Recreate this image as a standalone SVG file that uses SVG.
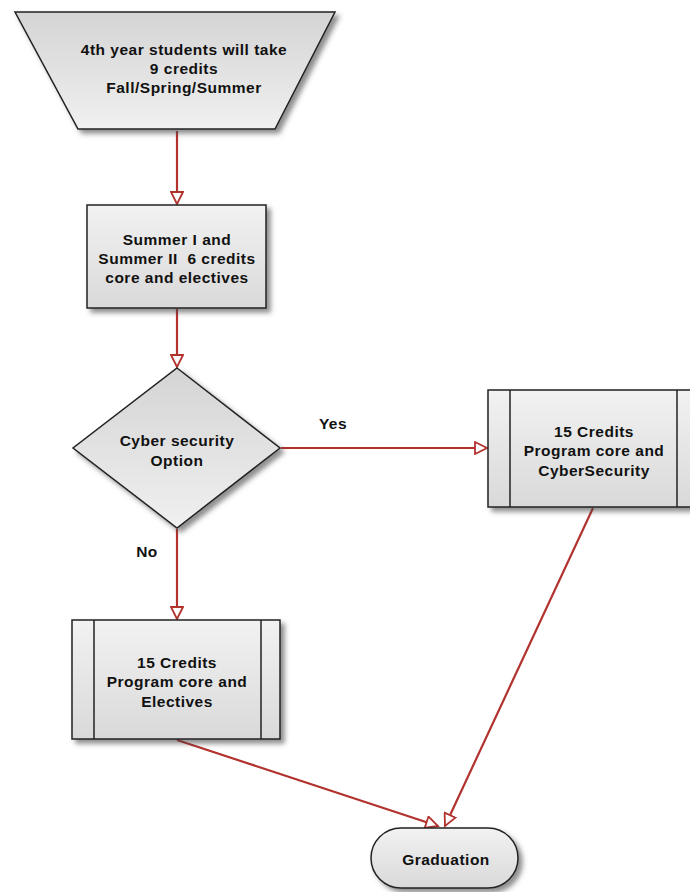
<svg xmlns="http://www.w3.org/2000/svg" width="690" height="892" viewBox="0 0 690 892">
<defs>
<linearGradient id="g" x1="0" y1="0" x2="0" y2="1">
<stop offset="0" stop-color="#f2f2f2"/>
<stop offset="1" stop-color="#d9d9d9"/>
</linearGradient>
<linearGradient id="gt" x1="0" y1="0" x2="0" y2="1">
<stop offset="0" stop-color="#d4d4d4"/>
<stop offset="1" stop-color="#f0f0f0"/>
</linearGradient>
<filter id="sh" x="-10%" y="-10%" width="125%" height="130%">
<feDropShadow dx="4" dy="4" stdDeviation="2.5" flood-color="#444" flood-opacity="0.6"/>
</filter>
<marker id="ah" markerWidth="16" markerHeight="14" refX="13" refY="7" orient="auto" markerUnits="userSpaceOnUse">
<path d="M1,1 L13,7 L1,13 Z" fill="#fff" stroke="#b2322e" stroke-width="1.8"/>
</marker>
</defs>
<style>
.n{stroke:#222;stroke-width:1.5;filter:url(#sh)}
.t{font-family:"Liberation Sans",Arial,sans-serif;font-size:15.5px;font-weight:bold;fill:#111;text-anchor:middle;white-space:pre;letter-spacing:0.5px}
.c{stroke:#b2322e;stroke-width:2.2;fill:none;marker-end:url(#ah)}
.l{stroke:#222;stroke-width:1.5}
</style>
<rect width="690" height="892" fill="#fff"/>
<g id="connectors">
<line class="c" x1="177" y1="131" x2="177" y2="204"/>
<line class="c" x1="177" y1="309" x2="177" y2="367"/>
<line class="c" x1="281" y1="448" x2="487" y2="448"/>
<line class="c" x1="177" y1="529" x2="177" y2="619"/>
<line class="c" x1="177" y1="740" x2="438" y2="826"/>
<line class="c" x1="593" y1="508" x2="445" y2="826"/>
</g>
<g id="start">
<polygon class="n" points="15,12 335,12 275,129 78,129" fill="url(#gt)"/>
<text class="t" x="184" y="55">4th year students will take</text>
<text class="t" x="184" y="74">9 credits</text>
<text class="t" x="184" y="93">Fall/Spring/Summer</text>
</g>
<g id="summer">
<rect class="n" x="87" y="205" width="179" height="103" fill="url(#g)"/>
<text class="t" x="177" y="245">Summer I and</text>
<text class="t" x="177" y="264">Summer II  6 credits</text>
<text class="t" x="177" y="283">core and electives</text>
</g>
<g id="decision">
<polygon class="n" points="177,368 280,448 177,528 73,448" fill="url(#gt)"/>
<text class="t" x="177" y="446">Cyber security</text>
<text class="t" x="177" y="466">Option</text>
</g>
<text class="t" x="333" y="429">Yes</text>
<text class="t" x="147" y="557">No</text>
<g id="cyber">
<rect class="n" x="488" y="390" width="211" height="117" fill="url(#g)"/>
<line class="l" x1="510" y1="390" x2="510" y2="507"/>
<line class="l" x1="677" y1="390" x2="677" y2="507"/>
<text class="t" x="594" y="437">15 Credits</text>
<text class="t" x="594" y="456">Program core and</text>
<text class="t" x="594" y="476">CyberSecurity</text>
</g>
<g id="electives">
<rect class="n" x="72" y="620" width="208" height="119" fill="url(#g)"/>
<line class="l" x1="94" y1="620" x2="94" y2="739"/>
<line class="l" x1="261" y1="620" x2="261" y2="739"/>
<text class="t" x="177" y="668">15 Credits</text>
<text class="t" x="177" y="687">Program core and</text>
<text class="t" x="177" y="707">Electives</text>
</g>
<g id="graduation">
<rect class="n" x="371" y="828" width="147" height="60" rx="30" ry="30" fill="url(#g)"/>
<text class="t" x="446" y="865">Graduation</text>
</g>
</svg>
